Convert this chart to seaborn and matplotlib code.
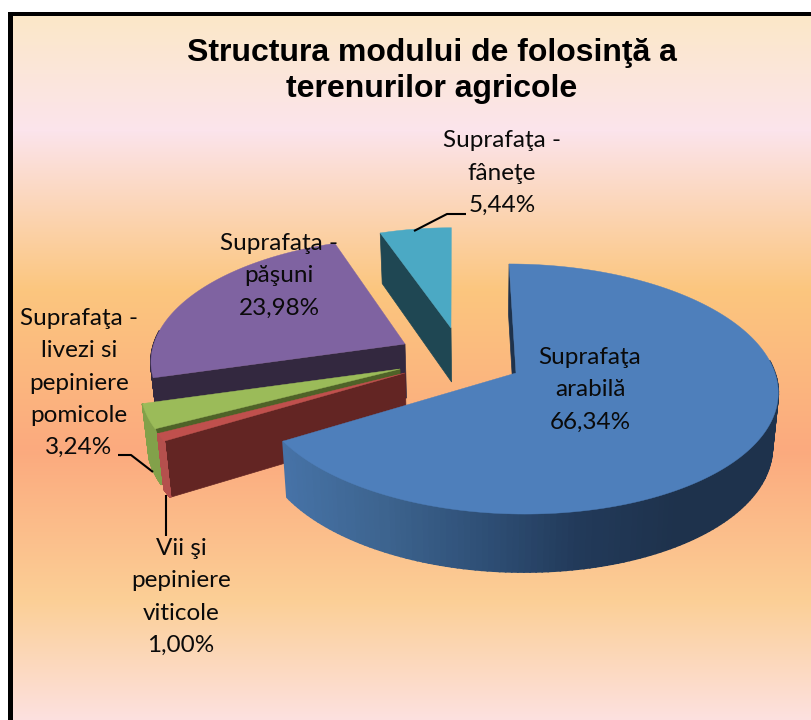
#!/usr/bin/env python3
"""Structura modului de folosinta a terenurilor agricole - pie 3D desenat cu matplotlib/seaborn"""

import numpy as np
import pandas as pd
import matplotlib
matplotlib.use('Agg')
import matplotlib.pyplot as plt
import seaborn as sns

# date
categories = ['Suprafaţa arabilă', 'Vii şi pepiniere viticole',
              'Suprafaţa - livezi si pepiniere pomicole',
              'Suprafaţa - păşuni', 'Suprafaţa - fâneţe']
values = [66.34, 1.00, 3.24, 23.98, 5.44]
label_lines = ['Suprafaţa\narabilă', 'Vii şi\npepiniere\nviticole',
               'Suprafaţa -\nlivezi si\npepiniere\npomicole',
               'Suprafaţa -\npăşuni', 'Suprafaţa -\nfâneţe']
title = 'Structura modului de folosinţă a\nterenurilor agricole'

top_colors = ['#4e7fbb', '#c0504d', '#9bbb59', '#7f63a1', '#4ba9c4']
radial_colors = ['#1e324c', '#632523', '#4f6228', '#33283f', '#1f4753']
wall_colors = ['#1e324c', '#b5504d', '#82a14a', '#33283f', '#1f4753']

# varful fiecarei felii (explodare) si raza relativa
apex = [(516, 373), (405, 373), (400, 369), (405, 344), (451, 328)]
radius = [1.0, 1.0, 0.99, 0.97, 0.91]
label_xy = [(590, 390), (181, 597), (79, 383), (279, 276), (502, 173)]

# proiectie
VP_X = 455
RX, RY, K = 259, 123, 0.128

sns.set_theme(style='white')
plt.rcParams['font.family'] = ['Lato', 'DejaVu Sans']

df = pd.DataFrame({'cat': categories, 'val': values})
df['end'] = df['val'].cumsum() / df['val'].sum() * 2 * np.pi
df['start'] = df['end'].shift(1, fill_value=0.0)


def top_pt(a, t, r):
    s, c = np.sin(t), np.cos(t)
    den = 1 + K * c * r
    x = VP_X + (a[0] - VP_X + RX * r * s) / den
    y = a[1] - RY * r * c / den
    return np.column_stack([x, y]) if np.ndim(t) else np.array([x, y])


def low_pt(a, t, r):
    p = np.atleast_2d(top_pt(a, t, r)).astype(float)
    c = np.atleast_1d(np.cos(t)) * r
    p[:, 0] = 480 + (p[:, 0] - 480) * 0.98
    p[:, 1] = p[:, 1] + 54 - 4 * c
    return p


def apex_low(a):
    return np.array([480 + (a[0] - 480) * 0.98, a[1] + 54])


fig = plt.figure(figsize=(8.11, 7.2), dpi=100, facecolor='white')
ax = fig.add_axes([0, 0, 1, 1])
ax.set_xlim(0, 811)
ax.set_ylim(720, 0)
ax.axis('off')

# fundal cu gradient
stops_y = [16, 130, 290, 450, 600, 720]
stops_c = ['#fbe8c8', '#fce4ec', '#fbc67e', '#fcaa7e', '#fbcf96', '#fde1e0']
rows = np.arange(16, 720)
rgb = np.array([matplotlib.colors.to_rgb(c) for c in stops_c])
grad = np.stack([np.interp(rows, stops_y, rgb[:, i]) for i in range(3)], axis=1)[:, None, :]
ax.imshow(grad, extent=[13, 811, 720, 16], aspect='auto', zorder=0)
ax.set_xlim(0, 811)
ax.set_ylim(720, 0)
ax.add_patch(plt.Rectangle((8, 12), 5, 708, color='black', lw=0, zorder=1))
ax.add_patch(plt.Rectangle((8, 12), 803, 4, color='black', lw=0, zorder=1))

blue_wall = sns.blend_palette(['#4672a6', '#3d648f', '#2f5077', '#223a5a', '#1e324c', '#1e324c'], 200)

z = 2
# ordinea de desen: din spate in fata
for i in [4, 3, 2, 1, 0]:
    row = df.iloc[i]
    a, r = apex[i], radius[i]
    # fata radiala vizibila (marginea de start)
    p0 = top_pt(a, row['start'], r)
    q0 = low_pt(a, row['start'], r)[0]
    ax.fill([a[0], p0[0], q0[0], apex_low(a)[0]], [a[1], p0[1], q0[1], apex_low(a)[1]],
            color=radial_colors[i], lw=0.5, zorder=z)
    # peretele exterior, doar partea din fata
    ts = np.linspace(row['start'], row['end'], 200)
    front = ts[np.cos(ts) < 0.12]
    if len(front) > 1:
        top_ring = top_pt(a, front, r)
        low_ring = low_pt(a, front, r)
        for j in range(len(front) - 1):
            col = wall_colors[i]
            if i == 0:
                # gradient pe orizontala: de la stanga deschis la dreapta inchis
                f = (top_ring[j, 0] - 285) / (778 - 285)
                col = blue_wall[int(np.clip(f, 0, 0.999) * 200)]
            xs = [top_ring[j, 0], top_ring[j + 1, 0], low_ring[j + 1, 0], low_ring[j, 0]]
            ys = [top_ring[j, 1], top_ring[j + 1, 1], low_ring[j + 1, 1], low_ring[j, 1]]
            ax.fill(xs, ys, color=col, lw=1.2, zorder=z)
    # fata de sus
    ring = top_pt(a, ts, r)
    ax.fill(np.r_[a[0], ring[:, 0]], np.r_[a[1], ring[:, 1]], color=top_colors[i], lw=0.3, zorder=z + 1)
    z += 2

# linii de legatura
lc = dict(color='black', lw=1.5, zorder=20, solid_capstyle='butt')
ax.plot([414, 447, 466], [231, 214, 214], **lc)
ax.plot([118, 131, 153], [455, 455, 472], **lc)
ax.plot([166, 166], [495, 536], **lc)

# etichete
for i, row in df.iterrows():
    txt = label_lines[i] + '\n' + f"{row['val']:.2f}%".replace('.', ',')
    ax.text(label_xy[i][0], label_xy[i][1], txt, ha='center', va='center', fontsize=17.5,
            linespacing=1.67, color='#0a0a0a', zorder=30)

ax.text(432, 71, title, ha='center', va='center', fontsize=23, fontweight='bold',
        family=['Liberation Sans', 'DejaVu Sans'], linespacing=1.22, color='black', zorder=30)

plt.savefig('out.png', dpi=100)
